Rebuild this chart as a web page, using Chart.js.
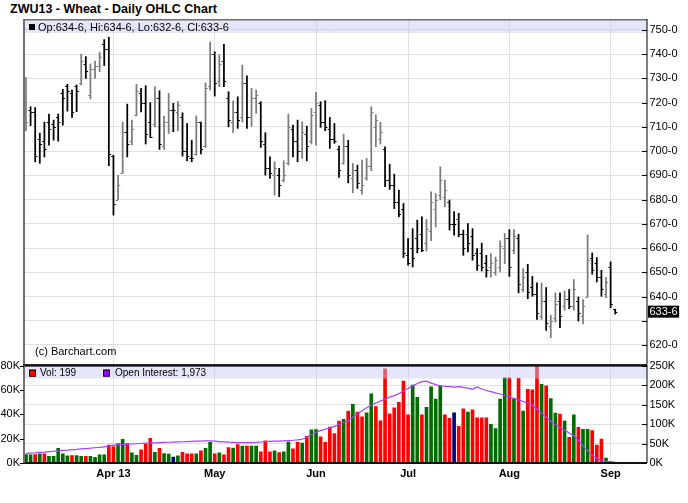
<!DOCTYPE html>
<html>
<head>
<meta charset="utf-8">
<script src="https://cdn.jsdelivr.net/npm/chart.js@4.4.0/dist/chart.umd.min.js"></script>
<style>
    body { margin: 0; background: #fff; }
    #wrap { position: relative; width: 688px; height: 503px; overflow: hidden; background: #fff; font-family: "Liberation Sans", Arial, sans-serif; }
    #title { position: absolute; left: 10px; top: 2px; font-weight: bold; font-size: 12.5px; color: #000; }
    #priceCanvas { position: absolute; left: 0; top: 0; }
    #volCanvas { position: absolute; left: 0; top: 355px; }
</style>
</head>
<body>
<div id="wrap">
    <div id="title">ZWU13 - Wheat - Daily OHLC Chart</div>
    <canvas id="priceCanvas" width="688" height="380" style="width:688px;height:380px"></canvas>
    <canvas id="volCanvas" width="688" height="148" style="width:688px;height:148px"></canvas>
</div>
<script>
// daily bars, 5 Mar 2013 .. 3 Sep 2013 (index = trading day)
const opens = [709,717,716,705,704,712,711,714,724,727,724,727,728,736,723,734,735,744,742,698,
    680,691,708,704,715,724,720,712,711,722,702,712,717,716,714,700,697,699,712,702,
    727,740,729,737,722,712,716,714,728,714,722,720,703,693,690,690,688,695,709,704,
    700,707,704,716,719,712,709,705,701,695,702,689,692,684,689,694,710,705,701,688,
    686,679,676,657,660,664,666,662,667,676,682,681,679,670,672,666,666,665,658,658,
    654,652,650,652,660,664,659,664,643,650,644,641,632,638,628,631,638,636,639,636,
    638,632,640,656,654,648,641,652,634.75];
const highs = [730.3,718.3,718,707.4,712,715.3,712.8,715.3,725.5,727.6,725.2,727.3,740,739,736,737.2,740.8,746,747,698.3,
    690,712,719.4,712.8,727.6,725.9,727,720,726.6,724.9,714.5,723.8,719.7,720.4,715.8,711.4,704.5,714.5,712,728.2,
    745,741,739.7,744.1,724.5,720.7,722.4,735.5,731.1,725.9,725.2,720.4,707.6,697.6,695.6,692.9,696,715.3,710.7,712.8,
    712.1,710.3,717.6,724.3,720.4,720.8,713.9,711.4,702.1,707,704.5,694.9,694.2,696.3,697,718.3,714.9,711.9,701.8,694.6,
    690.5,683.9,678.4,663.9,668,671.5,672.9,671.8,683.2,682.5,693.5,688,679.8,675,674.3,667.4,670.1,668,659.8,662,
    657,657.7,656.3,663,666,667.6,667.6,665.7,651.5,653.3,648.3,645.6,645.6,643.7,632.2,641.5,641.5,642.3,642.9,647,
    639.8,638.7,665.3,658,656.1,650.8,647.8,654.3,634.75];
const lows = [708.4,710.5,695.6,695,697.6,702.5,704.5,704.1,710.7,716.5,713.9,716.3,727.3,730,721.5,730,732.8,735.3,694,673.6,
    680,690.8,697.6,702.5,714.5,716.2,702.9,705.6,710,700.7,700.7,707.3,708,708.4,697.9,696,695.6,698.3,698.8,701.5,
    725.2,722.7,726.6,726.6,710,707.6,709.4,712,709.4,710.3,715.6,701.5,690.1,688.7,681.8,681.2,687.3,694.2,697.6,695.6,
    697,696,702.9,702.5,709.8,708.4,701.1,703.2,689.1,694.6,686.9,682.8,684.6,682.2,688,691.9,701.8,702.9,685.3,684.2,
    676.3,672.9,656.1,652.9,652.2,658,658.5,658.8,663,668.7,680,677,667.4,665.3,664.6,657,658.4,655,650.8,650.5,
    648,648,648.8,650.1,653.6,648.3,657.7,641.5,641.9,639.1,640.1,630.5,630.5,626,623,629.5,627.1,634.3,635,634.3,
    629.9,628.8,639.8,649.2,646,640.1,639.5,635.4,632.75];
const closes = [712,716,698,703,701,709,710,712,722,725,716,725,737,733,734,735,739,742,699,678,
    686,708,703,709,725,720,707,706,722,703,712,717,717,719,700,698,697,712,701,726,
    740,728,736,729,713,716,713,728,714,722,723,704,693,691,693,686,690,710,704,700,
    708,702,715,720,712,710,705,704,692,702,690,692,687,686,694,716,713,708,688,686,
    679,674,658,654,656,660,659,668,679,680,688,684,670,670,666,660,662,657,653,652,
    651,654,655,661,664,652,665,645,648,642,641,633,638,629,630,637,632,639,636,643,
    633,636,655,651,648,643,646,637,633.75];
const volumes = [7000,6700,7000,7500,7500,5400,5400,12000,7500,5900,6000,6000,5400,5400,5400,4600,6700,6700,14800,13500,
    16000,19400,16000,8400,6400,10800,15400,20200,8700,12000,7800,7300,4800,5900,8700,7500,7500,7500,10000,12000,
    17000,7500,8300,6700,12600,12200,15200,14000,14000,14000,14000,9200,18300,9200,10000,8600,9200,17200,11600,17000,
    16400,22000,27200,27500,21500,17000,29600,24200,34500,35800,42600,48200,41800,38000,41200,56800,46300,34700,77300,40400,
    45300,49800,67300,39600,64100,53900,39600,45800,62500,52500,63300,39600,36600,41200,30200,44400,41800,43600,37200,37200,
    37200,31800,28300,52500,70000,70000,52500,69800,42600,60600,60000,79500,64600,63300,53000,41000,40100,34500,21000,39600,
    29400,27700,27700,26700,14800,19700,4000,1000,199];
const openInterest = [24000,25200,26100,27300,28000,29400,30200,31000,32300,33100,34200,35000,36300,37100,38000,39200,40100,41300,43200,45800,
    46700,47500,48100,48800,49400,50100,50800,51500,51900,52300,52800,53200,53700,54100,54600,55000,55500,55900,56300,56600,
    56800,56200,55100,54200,53400,53000,52500,52200,52100,52400,53000,53900,54800,55400,55900,56400,57000,57600,58400,59500,
    61000,66000,73000,79000,83000,86500,90000,94000,99000,104000,108000,118000,126000,134000,142000,148000,154000,159000,164000,169000,
    173000,178000,185000,191000,198000,204000,209000,210000,205000,201000,198000,197000,196000,195000,196000,194000,192000,189000,195000,190000,
    186000,183000,180000,177000,174000,170000,166000,162000,158000,153000,148000,138000,128000,118000,107000,98000,91000,84000,77000,70000,
    58000,44000,31000,20000,12000,7000,4000,3000,1973];

const monthIdx = [19, 41, 63, 83, 105, 127];
const monthLabels = ['Apr 13', 'May', 'Jun', 'Jul', 'Aug', 'Sep'];
const priceTicks = [620, 630, 640, 650, 660, 670, 680, 690, 700, 710, 720, 730, 740, 750];
const volTicks = [0, 20000, 40000, 60000, 80000];
const oiTicks = [0, 50000, 100000, 150000, 200000, 250000];

const FAMILY = '"Liberation Sans", Arial, sans-serif';
Chart.defaults.font.family = FAMILY;
Chart.defaults.color = '#000';

const lastIdx = closes.length - 1;
const X_MIN = -0.43, X_MAX = 134.9;
const GRID = '#e0e0e0';
const STRIP = 'rgba(200,200,245,0.45)';

function fmtPrice(v) {
    const whole = Math.floor(v + 1e-9);
    const eighths = Math.round((v - whole) * 8);
    return whole + '-' + eighths;
}

function fmtK(v) {
    return Math.round(v / 1000) + 'K';
}

function barColor(i) {
    return closes[i] > opens[i] ? '#7c7c7c' : '#000000';
}

function volColor(i) {
    const prev = i > 0 ? closes[i - 1] : opens[i];
    if (closes[i] > prev) return '#006c00';
    if (closes[i] < prev) return '#ff0000';
    return '#000080';
}

function square(ctx, x, y, size, color) {
    ctx.fillStyle = color;
    ctx.fillRect(x, y, size, size);
    ctx.strokeStyle = '#000';
    ctx.lineWidth = 1;
    ctx.strokeRect(x + 0.5, y + 0.5, size - 1, size - 1);
}

const pricePanel = {
    id: 'pricePanel',
    afterDatasetsDraw(chart) {
        const { ctx, chartArea: a, scales: { x, y } } = chart;
        ctx.save();

        // open / close ticks
        ctx.lineWidth = 1;
        for (let i = 0; i < closes.length; i++) {
            const px = x.getPixelForValue(i);
            const yo = Math.round(y.getPixelForValue(opens[i])) + 0.5;
            const yc = Math.round(y.getPixelForValue(closes[i])) + 0.5;
            ctx.strokeStyle = barColor(i);
            ctx.beginPath();
            ctx.moveTo(px - 2.2, yo);
            ctx.lineTo(px, yo);
            ctx.moveTo(px, yc);
            ctx.lineTo(px + 2.2, yc);
            ctx.stroke();
        }

        // legend strip
        ctx.fillStyle = STRIP;
        ctx.fillRect(a.left, a.top, a.right - a.left, 13);
        square(ctx, a.left + 5, a.top + 4, 6, '#000');
        ctx.fillStyle = '#000';
        ctx.font = '11px ' + FAMILY;
        ctx.textBaseline = 'middle';
        ctx.textAlign = 'left';
        const txt = 'Op:' + fmtPrice(opens[lastIdx]) + ', Hi:' + fmtPrice(highs[lastIdx]) +
            ', Lo:' + fmtPrice(lows[lastIdx]) + ', Cl:' + fmtPrice(closes[lastIdx]);
        ctx.fillText(txt, a.left + 14, a.top + 7.5);

        ctx.fillText('(c) Barchart.com', a.left + 11, 351.5);

        // frame
        ctx.fillStyle = '#6e6e6e';
        ctx.fillRect(a.left - 1, a.top, 2, a.bottom - a.top);
        ctx.fillRect(a.left - 1, a.top - 1, a.right - a.left + 1, 1.5);
        ctx.fillStyle = '#000';
        ctx.fillRect(a.right - 0.5, a.top - 1, 1, a.bottom - a.top + 1);

        // inner tick marks on the price axis
        priceTicks.forEach(v => {
            const ty = Math.round(y.getPixelForValue(v));
            ctx.fillRect(a.right - 5, ty, 5, 1);
        });

        // last price marker
        const ly = y.getPixelForValue(closes[lastIdx]);
        const label = fmtPrice(closes[lastIdx]);
        const w = ctx.measureText(label).width;
        ctx.fillStyle = '#000';
        ctx.fillRect(a.right + 1, ly - 6, w + 3, 12);
        ctx.fillStyle = '#fff';
        ctx.fillText(label, a.right + 2.5, ly + 0.5);

        ctx.restore();
    }
};

const volPanel = {
    id: 'volPanel',
    afterDatasetsDraw(chart) {
        const { ctx, chartArea: a, scales: { yVol, yOI } } = chart;
        ctx.save();

        ctx.fillStyle = STRIP;
        ctx.fillRect(a.left, a.top, a.right - a.left, 13);
        square(ctx, a.left + 5, a.top + 4, 7, '#ff0000');
        square(ctx, a.left + 79, a.top + 4, 7, '#9900ff');
        ctx.fillStyle = '#000';
        ctx.font = '10px ' + FAMILY;
        ctx.textBaseline = 'middle';
        ctx.textAlign = 'left';
        ctx.fillText('Vol: ' + volumes[lastIdx].toLocaleString('en-US'), a.left + 16, a.top + 8);
        ctx.fillText('Open Interest: ' + openInterest[lastIdx].toLocaleString('en-US'), a.left + 91, a.top + 8);

        // frame
        ctx.fillStyle = '#111';
        ctx.fillRect(a.left - 1, a.top - 1.5, a.right - a.left + 1, 2.5);
        ctx.fillRect(a.left - 1, a.bottom - 1, a.right - a.left + 1, 2);
        ctx.fillStyle = '#6e6e6e';
        ctx.fillRect(a.left - 1, a.top, 2, a.bottom - a.top);
        ctx.fillStyle = '#000';
        ctx.fillRect(a.right - 0.5, a.top - 1, 1, a.bottom - a.top + 1);

        oiTicks.forEach(v => {
            const ty = Math.round(yOI.getPixelForValue(v));
            ctx.fillRect(a.right - 5, ty, 5, 1);
        });
        volTicks.forEach(v => {
            const ty = Math.round(yVol.getPixelForValue(v));
            ctx.fillRect(a.left - 4, ty, 4, 1);
        });

        ctx.restore();
    }
};

function monthTicks(scale) {
    scale.ticks = monthIdx.map(v => ({ value: v }));
}

new Chart(document.getElementById('priceCanvas'), {
    type: 'bar',
    data: {
        datasets: [{
            data: highs.map((h, i) => ({ x: i, y: [lows[i], h] })),
            backgroundColor: ctx => barColor(ctx.dataIndex),
            barThickness: 1.1,
            borderWidth: 0
        }]
    },
    options: {
        responsive: false,
        animation: false,
        layout: { padding: { left: 24, top: 20, right: 0, bottom: 16 } },
        plugins: { legend: { display: false }, tooltip: { enabled: false } },
        scales: {
            x: {
                type: 'linear',
                min: X_MIN,
                max: X_MAX,
                offset: false,
                afterBuildTicks: monthTicks,
                ticks: { display: false },
                grid: { color: GRID, drawTicks: false, offset: false },
                border: { display: false },
                afterFit: s => { s.height = 0; }
            },
            y: {
                position: 'right',
                min: 612.15,
                max: 754.1,
                afterBuildTicks: s => { s.ticks = priceTicks.map(v => ({ value: v })); },
                ticks: {
                    // the label under the last-price marker is hidden, as in the original
                    callback: v => Math.abs(v - closes[lastIdx]) < 5 ? '' : fmtPrice(v),
                    font: { size: 11 },
                    color: '#000',
                    padding: 2.5,
                    autoSkip: false
                },
                grid: { color: GRID, drawTicks: false },
                border: { display: false },
                afterFit: s => { s.width = 41; }
            }
        }
    },
    plugins: [pricePanel]
});

new Chart(document.getElementById('volCanvas'), {
    type: 'bar',
    data: {
        datasets: [
            {
                type: 'line',
                data: openInterest.map((v, i) => ({ x: i, y: v })),
                yAxisID: 'yOI',
                borderColor: '#a640ff',
                borderWidth: 1.2,
                pointRadius: 0,
                tension: 0,
                order: 0
            },
            {
                type: 'bar',
                data: volumes.map((v, i) => ({ x: i, y: v })),
                yAxisID: 'yVol',
                backgroundColor: ctx => volColor(ctx.dataIndex),
                barThickness: 3,
                borderWidth: 0,
                order: 1
            }
        ]
    },
    options: {
        responsive: false,
        animation: false,
        layout: { padding: { left: 0, top: 9, right: 0, bottom: 0 } },
        plugins: { legend: { display: false }, tooltip: { enabled: false } },
        scales: {
            x: {
                type: 'linear',
                min: X_MIN,
                max: X_MAX,
                offset: false,
                afterBuildTicks: monthTicks,
                ticks: {
                    callback: v => monthLabels[monthIdx.indexOf(v)],
                    font: { size: 11, weight: 'bold' },
                    color: '#000',
                    padding: 4,
                    maxRotation: 0,
                    autoSkip: false
                },
                grid: { color: GRID, drawTicks: false, offset: false },
                border: { display: false },
                afterFit: s => { s.height = 40; }
            },
            yVol: {
                position: 'left',
                min: 0,
                max: 80000,
                afterBuildTicks: s => { s.ticks = volTicks.map(v => ({ value: v })); },
                ticks: { callback: v => fmtK(v), font: { size: 11 }, color: '#000', padding: 4, autoSkip: false },
                grid: { drawOnChartArea: false, drawTicks: false },
                border: { display: false },
                afterFit: s => { s.width = 24; }
            },
            yOI: {
                position: 'right',
                min: 0,
                max: 250000,
                afterBuildTicks: s => { s.ticks = oiTicks.map(v => ({ value: v })); },
                ticks: { callback: v => fmtK(v), font: { size: 11 }, color: '#000', padding: 2.5, autoSkip: false },
                grid: { color: GRID, drawTicks: false },
                border: { display: false },
                afterFit: s => { s.width = 41; }
            }
        }
    },
    plugins: [volPanel]
});
</script>
</body>
</html>
